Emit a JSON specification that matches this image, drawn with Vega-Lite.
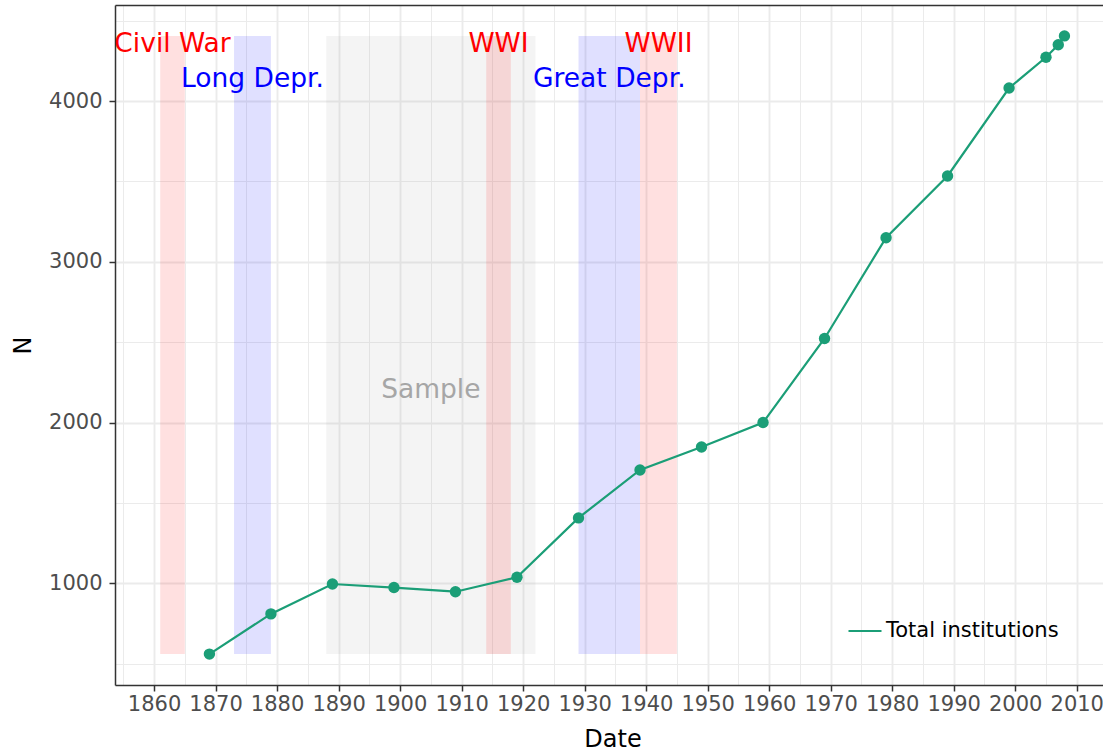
{
  "$schema": "https://vega.github.io/schema/vega-lite/v6.json",
  "width": 988,
  "height": 680,
  "autosize": {"type": "none"},
  "padding": {"left": 115, "top": 5, "right": 0, "bottom": 66},
  "background": "white",
  "config": {
    "font": "DejaVu Sans",
    "view": {"stroke": null}
  },
  "datasets": {
    "series": [
      {"year": 1869, "n": 560, "series": "Total institutions"},
      {"year": 1879, "n": 810, "series": "Total institutions"},
      {"year": 1889, "n": 996, "series": "Total institutions"},
      {"year": 1899, "n": 974, "series": "Total institutions"},
      {"year": 1909, "n": 948, "series": "Total institutions"},
      {"year": 1919, "n": 1038, "series": "Total institutions"},
      {"year": 1929, "n": 1407, "series": "Total institutions"},
      {"year": 1939, "n": 1705, "series": "Total institutions"},
      {"year": 1949, "n": 1848, "series": "Total institutions"},
      {"year": 1959, "n": 2000, "series": "Total institutions"},
      {"year": 1969, "n": 2523, "series": "Total institutions"},
      {"year": 1979, "n": 3150, "series": "Total institutions"},
      {"year": 1989, "n": 3534, "series": "Total institutions"},
      {"year": 1999, "n": 4081, "series": "Total institutions"},
      {"year": 2005, "n": 4272, "series": "Total institutions"},
      {"year": 2007, "n": 4350, "series": "Total institutions"},
      {"year": 2008, "n": 4405, "series": "Total institutions"}
    ],
    "events": [
      {"label": "Civil War", "start": 1861, "end": 1865, "mid": 1863, "ty": 4352, "kind": "war"},
      {"label": "Long Depr.", "start": 1873, "end": 1879, "mid": 1876, "ty": 4138, "kind": "depression"},
      {"label": "Sample", "start": 1888, "end": 1922, "mid": 1905, "ty": 2200, "kind": "sample"},
      {"label": "WWI", "start": 1914, "end": 1918, "mid": 1916, "ty": 4352, "kind": "war"},
      {"label": "Great Depr.", "start": 1929, "end": 1939, "mid": 1934, "ty": 4138, "kind": "depression"},
      {"label": "WWII", "start": 1939, "end": 1945, "mid": 1942, "ty": 4352, "kind": "war"}
    ]
  },
  "layer": [
    {
      "data": {"name": "events"},
      "mark": {"type": "rect", "fillOpacity": 0.12},
      "encoding": {
        "x": {"field": "start", "type": "quantitative", "scale": {"domain": [1853.65, 2014.27], "nice": false, "zero": false}, "axis": null},
        "x2": {"field": "end"},
        "y": {"datum": 560, "type": "quantitative", "scale": {"domain": [367.75, 4597.25], "nice": false, "zero": false}, "axis": null},
        "y2": {"datum": 4405},
        "fill": {"field": "kind", "type": "nominal", "scale": {"domain": ["war", "depression", "sample"], "range": ["#ff0000", "#0000ff", "#a6a6a6"]}, "legend": null}
      }
    },
    {
      "data": {"name": "events"},
      "mark": {"type": "text", "fontSize": 26.5, "baseline": "middle", "align": "center", "font": "DejaVu Sans"},
      "encoding": {
        "x": {"field": "mid", "type": "quantitative", "axis": null},
        "y": {"field": "ty", "type": "quantitative", "axis": null},
        "fill": {"field": "kind", "type": "nominal", "legend": null},
        "text": {"field": "label"}
      }
    },
    {
      "data": {"name": "series"},
      "mark": {"type": "line", "strokeWidth": 2.2},
      "encoding": {
        "x": {
          "field": "year", "type": "quantitative",
          "axis": {
            "orient": "bottom",
            "values": [1855, 1860, 1865, 1870, 1875, 1880, 1885, 1890, 1895, 1900, 1905, 1910, 1915, 1920, 1925, 1930, 1935, 1940, 1945, 1950, 1955, 1960, 1965, 1970, 1975, 1980, 1985, 1990, 1995, 2000, 2005, 2010],
            "format": "d",
            "labelExpr": "datum.value % 10 === 0 ? datum.label : ''",
            "labelFlush": false,
            "labelOverlap": false,
            "grid": true,
            "gridColor": "#ebebeb",
            "gridWidth": {"condition": {"test": "datum.value % 10 === 0", "value": 1.9}, "value": 1},
            "tickOpacity": {"condition": {"test": "datum.value % 10 === 0", "value": 1}, "value": 0},
            "tickSize": 6,
            "tickWidth": 1.5,
            "tickColor": "#333333",
            "domainColor": "#333333",
            "domainWidth": 1.5,
            "labelFontSize": 21,
            "labelColor": "#4d4d4d",
            "labelPadding": 2,
            "title": "Date",
            "titleFontSize": 24,
            "titleFontWeight": "normal",
            "titleColor": "black",
            "titleX": 497.5,
            "titleY": 61,
            "titleAlign": "center",
            "titleBaseline": "alphabetic"
          }
        },
        "y": {
          "field": "n", "type": "quantitative",
          "axis": {
            "orient": "left",
            "values": [500, 1000, 1500, 2000, 2500, 3000, 3500, 4000, 4500],
            "format": "d",
            "labelExpr": "datum.value % 1000 === 0 ? datum.label : ''",
            "labelOverlap": false,
            "labelFlush": false,
            "grid": true,
            "gridColor": "#ebebeb",
            "gridWidth": {"condition": {"test": "datum.value % 1000 === 0", "value": 1.9}, "value": 1},
            "tickOpacity": {"condition": {"test": "datum.value % 1000 === 0", "value": 1}, "value": 0},
            "tickSize": 6,
            "tickWidth": 1.5,
            "tickColor": "#333333",
            "domainColor": "#333333",
            "domainWidth": 1.5,
            "labelFontSize": 21,
            "labelColor": "#4d4d4d",
            "labelPadding": 7,
            "title": "N",
            "titleFontSize": 24,
            "titleFontWeight": "normal",
            "titleColor": "black",
            "titleX": -85,
            "titleY": 340,
            "titleAngle": 270,
            "titleAlign": "center",
            "titleBaseline": "alphabetic"
          }
        },
        "color": {
          "field": "series", "type": "nominal",
          "scale": {"range": ["#1b9e77"]},
          "legend": {
            "orient": "none",
            "legendX": 732,
            "legendY": 608,
            "title": null,
            "symbolType": "stroke",
            "symbolSize": 1089,
            "symbolStrokeWidth": 2.2,
            "labelFontSize": 21,
            "labelColor": "black",
            "labelFont": "DejaVu Sans",
            "labelOffset": 3,
            "labelLimit": 0,
            "padding": 0
          }
        }
      }
    },
    {
      "data": {"name": "series"},
      "mark": {"type": "circle", "size": 130, "opacity": 1, "color": "#1b9e77"},
      "encoding": {
        "x": {
          "field": "year", "type": "quantitative",
          "axis": {"orient": "top", "labels": false, "ticks": false, "grid": false, "domain": true, "domainColor": "#333333", "domainWidth": 1.5, "title": null}
        },
        "y": {"field": "n", "type": "quantitative", "axis": null}
      }
    }
  ],
  "resolve": {"axis": {"x": "independent", "y": "independent"}}
}
